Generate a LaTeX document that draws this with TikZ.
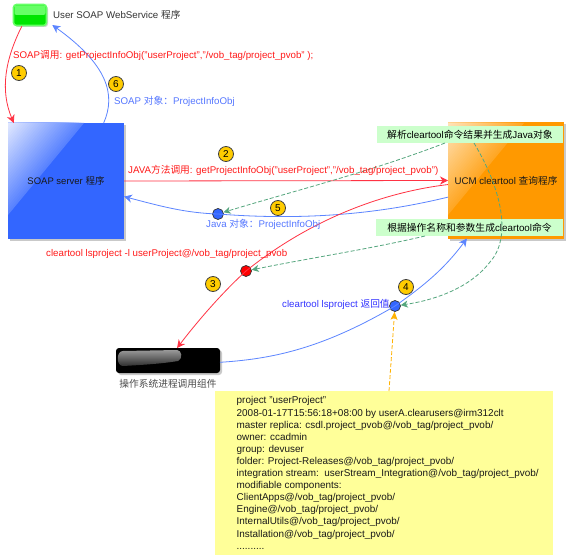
\documentclass[tikz,border=0pt]{standalone}
\usepackage{fontspec}
\setmainfont{Liberation Sans}
\newfontfamily\cjkf{Noto Sans CJK SC}
\newcommand{\zh}[1]{{\cjkf #1}}
\usetikzlibrary{arrows.meta,shadows,calc}
\definecolor{lnred}{HTML}{FF3344}
\definecolor{lnblue}{HTML}{5C85FF}
\definecolor{txtblue}{HTML}{5577FF}
\definecolor{boxblue}{HTML}{3366FF}
\definecolor{boxorange}{HTML}{FF9900}
\definecolor{lblgreen}{HTML}{CCFFCC}
\definecolor{dashgreen}{HTML}{55A67E}
\definecolor{notey}{HTML}{FFFF99}
\definecolor{numfill}{HTML}{FFCC00}
\tikzset{
  lbl/.style={font=\fontsize{9.72}{12}\selectfont, inner sep=0pt, anchor=west},
  redtxt/.style={lbl, text=red!90!white},
  bluetxt/.style={lbl, text=txtblue},
  numb/.style={circle, draw=black!75, line width=0.8pt, fill=numfill, minimum size=15pt, inner sep=0pt, font=\fontsize{10}{12}\selectfont},
  dot/.style={circle, draw=black!80, line width=0.7pt, minimum size=11pt, inner sep=0pt},
  bigbox/.style={draw=none, minimum width=116pt, minimum height=116pt, inner sep=0pt, outer sep=0pt, drop shadow={shadow xshift=2pt, shadow yshift=-2pt, opacity=.35, fill=black!60}},
  tag/.style={fill=lblgreen, inner sep=0pt, outer sep=0pt, minimum height=17pt, font=\fontsize{9.8}{12}\selectfont},
  red line/.style={draw=lnred, line width=0.8pt},
  blue line/.style={draw=lnblue, line width=0.8pt},
  tipr/.style={-{Stealth[length=8pt,width=8pt,inset=2.5pt]}},
  green dash/.style={draw=dashgreen, line width=0.8pt, dash pattern=on 4pt off 2pt, -{Stealth[length=7pt,width=7pt,inset=2pt]}},
}
\begin{document}
\begin{tikzpicture}[x=1pt,y=-1pt]
\useasboundingbox (0,0) rectangle (570,559);
\fill[white] (0,0) rectangle (570,559);

% green node
\node[rounded corners=3pt, draw=green!60!white, line width=1.6pt, fill=green!90!black, minimum width=33pt, minimum height=21pt, inner sep=0pt, outer sep=0.8pt, drop shadow={shadow xshift=1.5pt, shadow yshift=-1.5pt, opacity=.3, fill=black!60}] (client) at (30,15) {};
\fill[rounded corners=2pt, fill=green!60!white] (14.5,5.5) rectangle (45.5,15);
\node[lbl, text=black!80] (clienttxt) at (53,15) {User SOAP WebService \zh{程序}};

% blue box
\node[bigbox, fill=boxblue] (server) at (66,181) {};
\foreach \k in {30,29,...,1}{
  \pgfmathsetmacro{\p}{85-(\k-1)*2.3}
  \fill[white!\p!boxblue] (8,123) -- ({8+76*\k/30},123) -- (8,{123+92*\k/30}) -- cycle;
}
\node[font=\fontsize{9.5}{12}\selectfont, text=black!90] (servertxt) at (66,181) {SOAP server \zh{程序}};

% orange box
\node[bigbox, fill=boxorange] (ucm) at (506,180.5) {};
\foreach \k in {30,29,...,1}{
  \pgfmathsetmacro{\p}{72-(\k-1)*2}
  \fill[white!\p!boxorange] (448,123) -- ({448+76*\k/30},123) -- (448,{123+92*\k/30}) -- cycle;
}
\node[font=\fontsize{9.7}{12}\selectfont, text=black!90] (ucmtxt) at (506,181) {UCM cleartool \zh{查询程序}};

% black node
\node[rounded corners=3pt, fill=black, minimum width=104pt, minimum height=25pt, inner sep=0pt, outer sep=0pt, drop shadow={shadow xshift=2pt, shadow yshift=-2pt, opacity=.35, fill=black!60}] (os) at (168,360.5) {};
\begin{scope}
\clip (123,351) -- (177,350) .. controls (182,350) and (183,359) .. (178,361) .. controls (160,364) and (140,365) .. (123,366) .. controls (116,366) and (116,351) .. (123,351) -- cycle;
\foreach \k in {0,...,16}{
  \pgfmathsetmacro{\p}{40+\k*2.6}
  \fill[black!\p] (116,{350+\k}) rectangle (184,{351.2+\k});
}
\end{scope}
\node[lbl, anchor=center, text=black!70] (ostxt) at (168,384) {\zh{操作系统进程调用组件}};

% dots
\node[dot, fill=boxblue] (d5) at (218,214) {};
\node[dot, fill=red] (d3) at (246,271) {};
\node[dot, fill=boxblue] (d4) at (395,306) {};

% connectors under the tags
\draw[red line, tipr] (client.234) .. controls (5,60) and (0,90) .. (server.132.5);
\draw[blue line, tipr] (server.57.5) .. controls (116,95) and (108,65) .. ($(client.east)+(5,10)$);
\draw[red line, tipr] (server.east) -- (ucm.west);
\draw[blue line] (ucm.196) .. controls (395,210) and (320,222) .. (d5.center);
\draw[blue line, tipr] (d5.center) .. controls (185,213) and (160,206) .. (server.-15);
\draw[red line] (ucm.184.4) .. controls (385,192) and (312,218) .. (d3.center);
\draw[red line, tipr] (d3.center) .. controls (225,290) and (200,318) .. (os.54);
\draw[blue line] (os.-2) .. controls (270,359) and (320,350) .. (d4.center);
\draw[blue line, tipr] (d4.center) .. controls (425,285) and (445,268) .. (ucm.236);

% tags
\node[tag, minimum width=186pt] (tag1) at (470,134.5) {\zh{解析}cleartool\zh{命令结果并生成}Java\zh{对象}};
\node[tag, minimum width=187pt] (tag2) at (469.5,227.5) {\zh{根据操作名称和参数生成}cleartool\zh{命令}};

% note
\node[fill=notey, inner sep=0pt, minimum width=338pt, minimum height=164pt, outer sep=0pt] (note) at (384,473) {};
\node[font=\fontsize{9.93}{12.1}\selectfont, align=left, anchor=north west, inner sep=0pt, text=black!90] (notetxt) at (236.5,396.5) {project "userProject"\\
2008-01-17T15:56:18+08:00 by userA.clearusers@irm312clt\\
master replica: csdl.project\_pvob@/vob\_tag/project\_pvob/\\
owner: ccadmin\\
group: devuser\\
folder: Project-Releases@/vob\_tag/project\_pvob/\\
integration stream:\ \ userStream\_Integration@/vob\_tag/project\_pvob/\\
modifiable components:\\
ClientApps@/vob\_tag/project\_pvob/\\
Engine@/vob\_tag/project\_pvob/\\
InternalUtils@/vob\_tag/project\_pvob/\\
Installation@/vob\_tag/project\_pvob/\\
..........};

% dashed connectors
\draw[green dash] (tag1.south -| 445,143) .. controls (370,172) and (290,192) .. (d5);
\draw[green dash] (tag2.south -| 425,236) .. controls (370,249) and (310,258) .. (d3);
\draw[green dash] (tag1.south -| 474,143) .. controls (505,195) and (510,240) .. (490,262) .. controls (470,288) and (435,300) .. (d4);
\draw[draw=orange!60!yellow, line width=0.8pt, dash pattern=on 4pt off 2pt, -{Stealth[length=8pt,width=7pt,inset=2pt]}] (note.north -| 389,391) -- (d4);

% labels
\node[redtxt] (l1) at (13,56) {SOAP\zh{调用}: getProjectInfoObj("userProject","/vob\_tag/project\_pvob" );};
\node[bluetxt] (l6) at (114,101) {SOAP \zh{对象：}ProjectInfoObj};
\node[redtxt] (l2) at (128,170) {JAVA\zh{方法调用}: getProjectInfoObj("userProject","/vob\_tag/project\_pvob")};
\node[bluetxt] (l5) at (206,224) {Java \zh{对象：}ProjectInfoObj};
\node[redtxt] (l3) at (46,254) {cleartool lsproject -l userProject@/vob\_tag/project\_pvob};
\node[lbl, text=blue!80!white] (l4) at (282,304) {cleartool lsproject \zh{返回值}};

% numbers
\node[numb] (n1) at (19,73) {1};
\node[numb] (n6) at (116,84) {6};
\node[numb] (n2) at (226,154) {2};
\node[numb] (n5) at (278,208) {5};
\node[numb] (n3) at (213,284) {3};
\node[numb] (n4) at (406,287) {4};
\end{tikzpicture}
\end{document}
